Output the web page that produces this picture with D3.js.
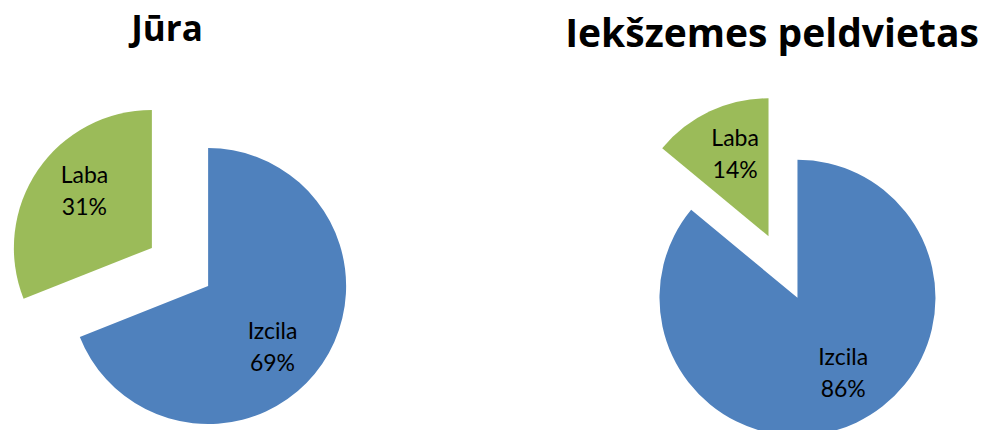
<!DOCTYPE html>
<meta charset="utf-8">
<style>
  body { margin: 0; background: #fff; }
  .title { font-family: "Open Sans", Lato, sans-serif; font-weight: bold; fill: #000; }
  .lbl { font-family: Lato, "Open Sans", sans-serif; font-size: 23px; fill: #000; }
</style>
<body>
<svg id="chart" width="986" height="430"></svg>
<script src="https://cdnjs.cloudflare.com/ajax/libs/d3/7.8.5/d3.min.js"></script>
<script>
// data
var titles = ["Jūra", "Iekšzemes peldvietas"];
var categories = ["Izcila", "Laba"];
var juraValues = [69, 31];
var iekszemesValues = [86, 14];
var colors = ["#4f81bd", "#9bbb59"];

// layout (labelShift = small angle tweak in degrees, like excel's best fit)
var radius = 138, explode = 34, labelDist = 0.64;
var panels = [
  {title: titles[0], values: juraValues, cx: 180, cy: 267, tx: 167, ty: 41, tsize: 35, labelShift: [9, 6]},
  {title: titles[1], values: iekszemesValues, cx: 783, cy: 267, tx: 772, ty: 47, tsize: 39, labelShift: [-6, 3]}
];

var svg = d3.select("#chart");
var pie = d3.pie().sort(null).value(function(d) { return d; });
var arc = d3.arc().innerRadius(0).outerRadius(radius);

panels.forEach(function(p) {
  svg.append("text")
    .attr("class", "title")
    .attr("x", p.tx).attr("y", p.ty)
    .attr("text-anchor", "middle")
    .style("font-size", p.tsize + "px")
    .text(p.title);

  var g = svg.append("g").attr("transform", "translate(" + p.cx + "," + p.cy + ")");
  var total = d3.sum(p.values);

  var slices = g.selectAll("g.slice")
    .data(pie(p.values))
    .enter().append("g")
    .attr("class", "slice")
    .attr("transform", function(d) {
      var a = (d.startAngle + d.endAngle) / 2;
      return "translate(" + (Math.sin(a) * explode) + "," + (-Math.cos(a) * explode) + ")";
    });

  slices.append("path")
    .attr("d", arc)
    .attr("fill", function(d, i) { return colors[i]; });

  // labels inside the slice, near the mid angle
  var txt = slices.append("text")
    .attr("class", "lbl")
    .attr("text-anchor", "middle")
    .attr("transform", function(d, i) {
      var a = (d.startAngle + d.endAngle) / 2 + p.labelShift[i] * Math.PI / 180;
      var r = radius * labelDist;
      return "translate(" + (Math.sin(a) * r) + "," + (-Math.cos(a) * r) + ")";
    });
  txt.append("tspan").attr("x", 0).attr("y", -8).text(function(d, i) { return categories[i]; });
  txt.append("tspan").attr("x", 0).attr("y", 24).text(function(d) { return Math.round(d.value / total * 100) + "%"; });
});
</script>
</body>
